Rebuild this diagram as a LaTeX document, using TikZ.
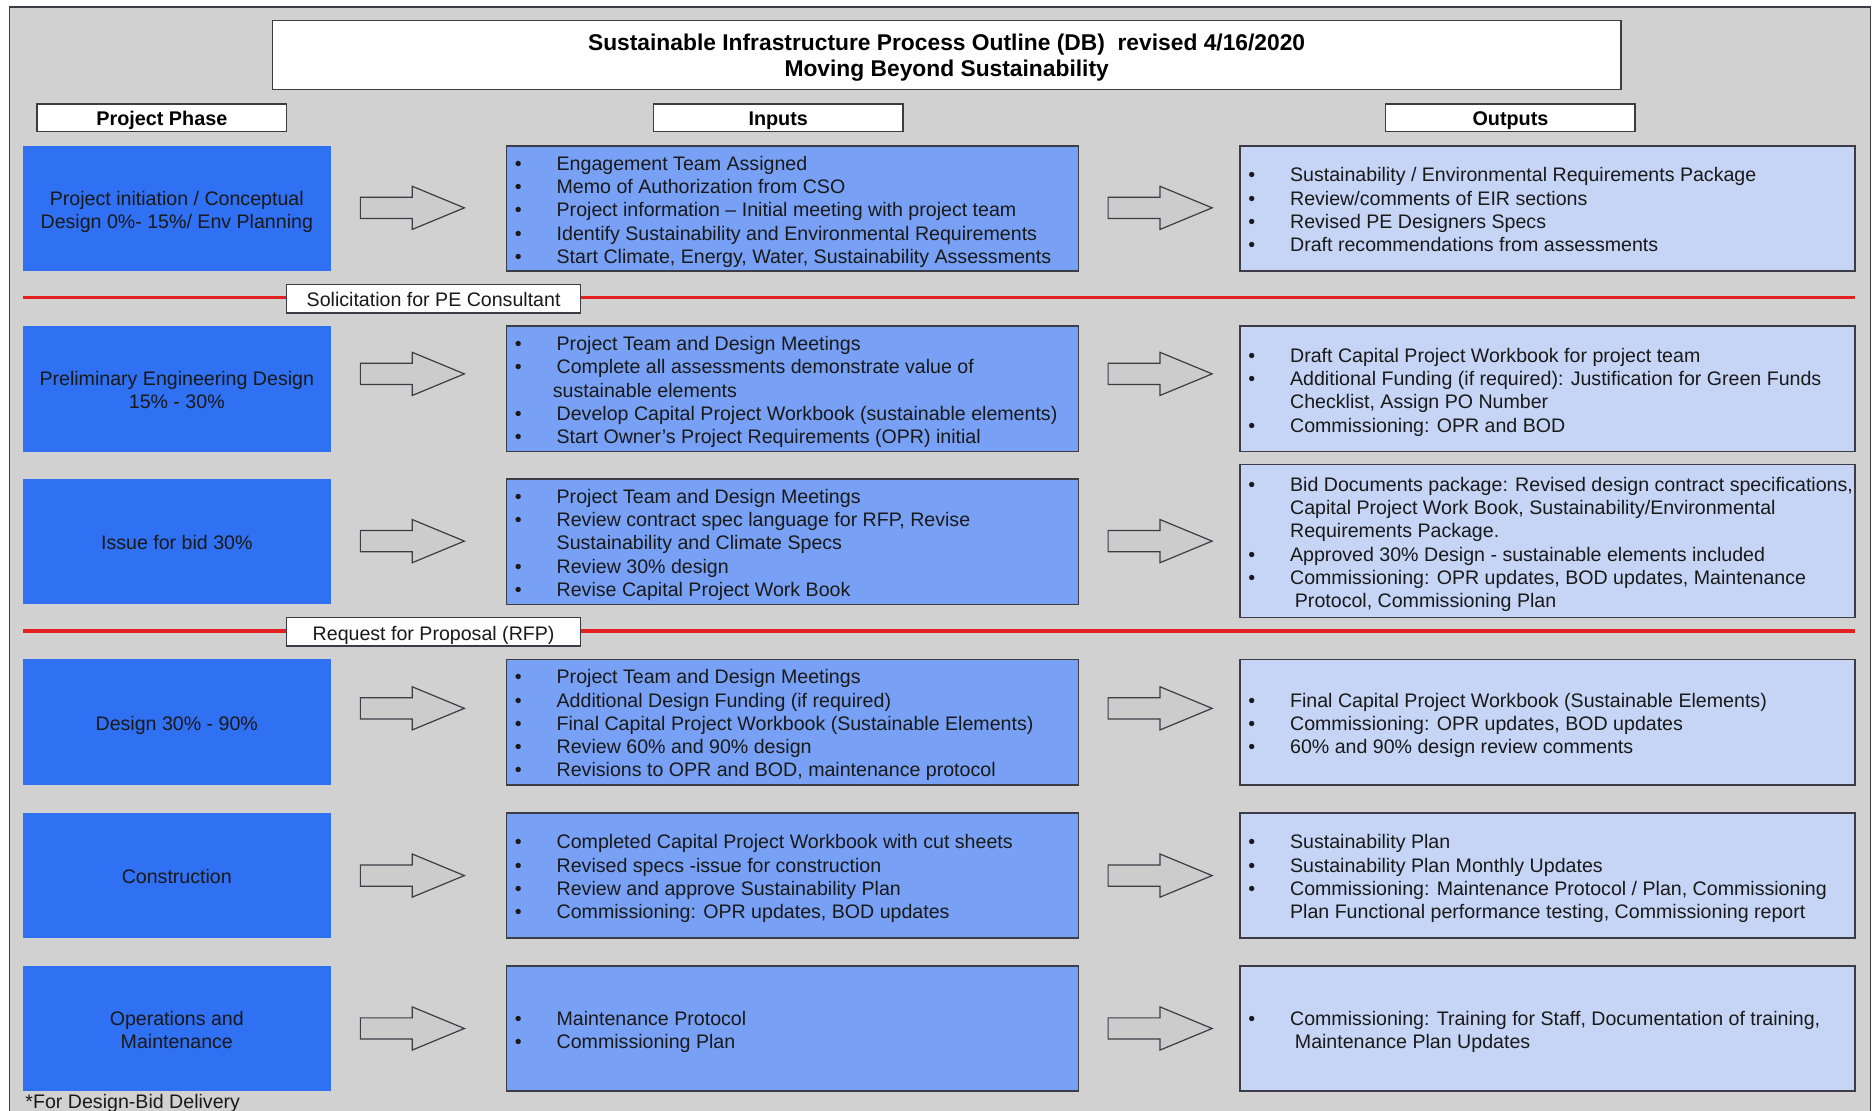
\documentclass[tikz,border=0pt]{standalone}
\usepackage{fontspec}
\setmainfont{Liberation Sans}
\usetikzlibrary{shapes.arrows}

\definecolor{panelgray}{RGB}{209,209,209}
\definecolor{phaseblue}{RGB}{48,112,242}
\definecolor{inblue}{RGB}{120,161,245}
\definecolor{outblue}{RGB}{198,213,246}
\definecolor{edgegray}{RGB}{60,60,70}
\definecolor{divred}{RGB}{228,32,32}

\newcommand{\bl}{\makebox[20.9pt][l]{\textbullet}}
\newcommand{\ct}{\hspace*{20.9pt}}
\newcommand{\itemlist}[2]{\makebox[#1][l]{\raisebox{-1.8pt}[\height][\depth]{\begin{tabular}{@{}l@{}}#2\end{tabular}}}}
\newcommand{\lowered}[1]{\raisebox{-1.8pt}[\height][\depth]{\begin{tabular}{@{}c@{}}#1\end{tabular}}}

\tikzset{
  txt/.style={font=\fontsize{9.8}{11.65}\selectfont, text=black!90},
  phasebox/.style={txt, fill=phaseblue, minimum width=154.1pt, minimum height=62.7pt, inner sep=0pt},
  inbox/.style={txt, draw=edgegray, line width=0.8pt, fill=inblue, minimum width=286.1pt, minimum height=62.7pt, inner xsep=4.2pt, inner ysep=0pt},
  outbox/.style={txt, draw=edgegray, line width=0.8pt, fill=outblue, minimum width=307.6pt, minimum height=62.7pt, inner xsep=4.2pt, inner ysep=0pt},
  headbox/.style={font=\fontsize{9.9}{11.65}\selectfont\bfseries, draw=edgegray, line width=0.8pt, fill=white, minimum width=124.8pt, minimum height=13.7pt, inner sep=0pt},
  gatebox/.style={txt, draw=edgegray, line width=0.8pt, fill=white, minimum width=147pt, minimum height=14.3pt, inner sep=0pt},
  blockarrow/.style={single arrow, draw=edgegray, line width=0.6pt, fill=black!20, minimum height=52pt, inner sep=5pt, single arrow head extend=5.5pt, single arrow tip angle=45},
  divider/.style={divred, line width=1.8pt}
}

\begin{document}
\begin{tikzpicture}[x=0.5973pt,y=-0.5973pt]
\useasboundingbox (0,0) rectangle (1568,930);
\clip (0,0) rectangle (1568,930);
\fill[white] (0,0) rectangle (1568,930);
\draw[edgegray, line width=0.8pt, fill=panelgray] (8,6) rectangle (1566,950);

\node[draw=edgegray, line width=0.8pt, fill=white, minimum width=674.4pt, minimum height=34.6pt, inner sep=0pt, font=\fontsize{11.4}{13.1}\selectfont\bfseries] (title) at (792.5,46) {\lowered{Sustainable Infrastructure Process Outline (DB)\ \ revised 4/16/2020\\Moving Beyond Sustainability}};

\node[headbox] (hphase) at (135.5,98.5) {\lowered{Project Phase}};
\node[headbox] (hin) at (651.5,98.5) {\lowered{Inputs}};
\node[headbox] (hout) at (1264.5,98.5) {\lowered{Outputs}};

\node[phasebox] (ph1) at (148,174.5) {\lowered{Project initiation / Conceptual\\Design 0\%- 15\%/ Env Planning}};
\node[inbox] (in1) at (663.5,174.5) {\itemlist{277.7pt}{\bl Engagement Team Assigned\\ \bl Memo of Authorization from CSO\\ \bl Project information -- Initial meeting with project team\\ \bl Identify Sustainability and Environmental Requirements\\ \bl Start Climate, Energy, Water, Sustainability Assessments}};
\node[outbox] (out1) at (1295.5,174.5) {\itemlist{299.2pt}{\bl Sustainability / Environmental Requirements Package\\ \bl Review/comments of EIR sections\\ \bl Revised PE Designers Specs\\ \bl Draft recommendations from assessments}};
\node[blockarrow] (ar1a) at (334.5,174) {};
\node[blockarrow] (ar1b) at (960.5,174) {};

\draw[divider] (19,249) -- (1553,249);
\node[gatebox] (gate1) at (363,250) {\lowered{Solicitation for PE Consultant}};

\node[phasebox] (ph2) at (148,325.5) {\lowered{Preliminary Engineering Design\\15\% - 30\%}};
\node[inbox] (in2) at (663.5,325.5) {\itemlist{277.7pt}{\bl Project Team and Design Meetings\\ \bl Complete all assessments demonstrate value of\\ \hspace*{19pt}sustainable elements\\ \bl Develop Capital Project Workbook (sustainable elements)\\ \bl Start Owner's Project Requirements (OPR) initial}};
\node[outbox] (out2) at (1295.5,325.5) {\itemlist{299.2pt}{\bl Draft Capital Project Workbook for project team\\ \bl Additional Funding (if required): Justification for Green Funds\\ \ct Checklist, Assign PO Number\\ \bl Commissioning: OPR and BOD}};
\node[blockarrow] (ar2a) at (334.5,313) {};
\node[blockarrow] (ar2b) at (960.5,313) {};

\node[phasebox] (ph3) at (148,453.5) {\lowered{Issue for bid 30\%}};
\node[inbox] (in3) at (663.5,453.5) {\itemlist{277.7pt}{\bl Project Team and Design Meetings\\ \bl Review contract spec language for RFP, Revise\\ \ct Sustainability and Climate Specs\\ \bl Review 30\% design\\ \bl Revise Capital Project Work Book}};
\node[outbox, minimum height=76.5pt] (out3) at (1295.5,453) {\itemlist{299.2pt}{\bl Bid Documents package: Revised design contract specifications,\\ \ct Capital Project Work Book, Sustainability/Environmental\\ \ct Requirements Package.\\ \bl Approved 30\% Design - sustainable elements included\\ \bl Commissioning: OPR updates, BOD updates, Maintenance\\ \ct\hspace*{2.4pt}Protocol, Commissioning Plan}};
\node[blockarrow] (ar3a) at (334.5,453) {};
\node[blockarrow] (ar3b) at (960.5,453) {};

\draw[divider] (19,528) -- (1553,528);
\node[gatebox] (gate2) at (363,529) {\lowered{Request for Proposal (RFP)}};

\node[phasebox] (ph4) at (148,604.5) {\lowered{Design 30\% - 90\%}};
\node[inbox] (in4) at (663.5,604.5) {\itemlist{277.7pt}{\bl Project Team and Design Meetings\\ \bl Additional Design Funding (if required)\\ \bl Final Capital Project Workbook (Sustainable Elements)\\ \bl Review 60\% and 90\% design\\ \bl Revisions to OPR and BOD, maintenance protocol}};
\node[outbox] (out4) at (1295.5,604.5) {\itemlist{299.2pt}{\bl Final Capital Project Workbook (Sustainable Elements)\\ \bl Commissioning: OPR updates, BOD updates\\ \bl 60\% and 90\% design review comments}};
\node[blockarrow] (ar4a) at (334.5,593) {};
\node[blockarrow] (ar4b) at (960.5,593) {};

\node[phasebox] (ph5) at (148,733) {\lowered{Construction}};
\node[inbox] (in5) at (663.5,733) {\itemlist{277.7pt}{\bl Completed Capital Project Workbook with cut sheets\\ \bl Revised specs -issue for construction\\ \bl Review and approve Sustainability Plan\\ \bl Commissioning: OPR updates, BOD updates}};
\node[outbox] (out5) at (1295.5,733) {\itemlist{299.2pt}{\bl Sustainability Plan\\ \bl Sustainability Plan Monthly Updates\\ \bl Commissioning: Maintenance Protocol / Plan, Commissioning\\ \ct Plan Functional performance testing, Commissioning report}};
\node[blockarrow] (ar5a) at (334.5,733) {};
\node[blockarrow] (ar5b) at (960.5,733) {};

\node[phasebox] (ph6) at (148,861) {\lowered{Operations and\\Maintenance}};
\node[inbox] (in6) at (663.5,861) {\itemlist{277.7pt}{\bl Maintenance Protocol\\ \bl Commissioning Plan}};
\node[outbox] (out6) at (1295.5,861) {\itemlist{299.2pt}{\bl Commissioning: Training for Staff, Documentation of training,\\ \ct\hspace*{2.4pt}Maintenance Plan Updates}};
\node[blockarrow] (ar6a) at (334.5,861) {};
\node[blockarrow] (ar6b) at (960.5,861) {};

\node[txt, anchor=north west, inner sep=0pt] (note) at (21,915.5) {*For Design-Bid Delivery};
\end{tikzpicture}
\end{document}
